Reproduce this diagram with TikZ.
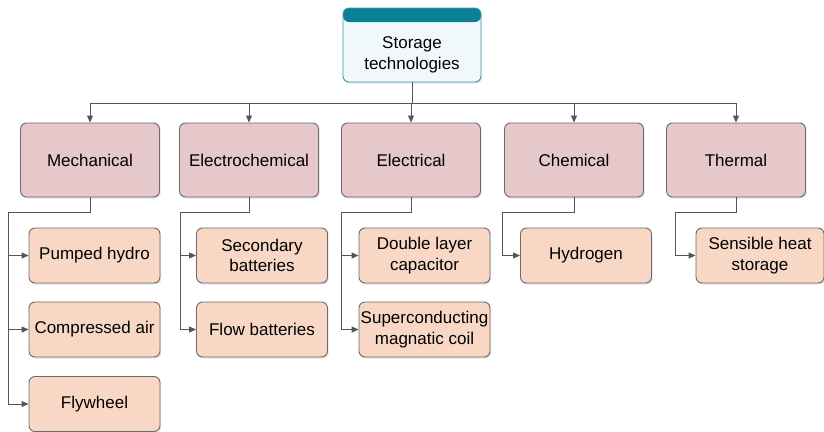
\documentclass[tikz,border=0pt]{standalone}
\usepackage{fontspec}
\setmainfont{Liberation Sans}
\usetikzlibrary{arrows.meta,shadows}
\definecolor{catfill}{HTML}{E6C8CB}
\definecolor{kidfill}{HTML}{F9D7C5}
\definecolor{boxline}{HTML}{6A6A6A}
\definecolor{wire}{HTML}{555555}
\definecolor{headteal}{HTML}{0B7F96}
\definecolor{topfill}{HTML}{F1F8FB}
\tikzset{
  base/.style={rounded corners=6pt, draw=boxline, line width=0.9pt,
    font=\fontsize{17}{20.5}\selectfont, align=center, inner sep=0pt,
    drop shadow={opacity=0.22, shadow xshift=1.2pt, shadow yshift=-1.6pt}},
  catbox/.style={base, fill=catfill, minimum width=139pt, minimum height=74pt},
  kidbox/.style={base, fill=kidfill, minimum width=131pt, minimum height=55pt},
  topbox/.style={base, fill=topfill, draw=headteal!80, minimum width=138pt, minimum height=74pt,
    path picture={\fill[headteal] (path picture bounding box.north west) rectangle ([yshift=-14pt]path picture bounding box.north east);}},
  wireline/.style={draw=wire, line width=0.9pt},
  arr/.style={wireline, -{Triangle[length=7pt,width=6pt]}},
}
\begin{document}
\begin{tikzpicture}[x=1pt,y=-1pt]
\useasboundingbox (0,0) rectangle (824,431);
% top
\node[topbox] (top) at (412,45) {};
\node[font=\fontsize{17}{20.5}\selectfont, align=center, inner sep=0pt] (toptext) at (412,55) {Storage\\technologies};
% categories
\node[catbox] (mech) at (90,160) {Mechanical};
\node[catbox] (echem) at (249,160) {Electrochemical};
\node[catbox] (elec) at (411,160) {Electrical};
\node[catbox] (chem) at (574,160) {Chemical};
\node[catbox] (therm) at (736,160) {Thermal};
% children
\node[kidbox] (ph) at (94.5,255.5) {Pumped hydro};
\node[kidbox] (ca) at (94.5,329.5) {Compressed air};
\node[kidbox] (fw) at (94.5,404) {Flywheel};
\node[kidbox] (sb) at (262,255.5) {Secondary\\batteries};
\node[kidbox] (fb) at (262,329.5) {Flow batteries};
\node[kidbox] (dl) at (424.5,255.5) {Double layer\\capacitor};
\node[kidbox] (sc) at (424.5,329.5) {Superconducting\\magnatic coil};
\node[kidbox] (hy) at (586,255.5) {Hydrogen};
\node[kidbox, minimum width=128pt] (sh) at (760,255.5) {Sensible heat\\storage};
% bus
\coordinate (bus) at (0,103);
\draw[wireline] (top.south) -- (top.south |- bus);
\draw[wireline] (mech.north |- bus) -- (therm.north |- bus);
\foreach \n in {mech,echem,elec,chem,therm}{
  \draw[arr] (\n.north |- bus) -- (\n.north);
}
% child connectors
\coordinate (mx) at (8,212);
\coordinate (ex) at (180,212);
\coordinate (lx) at (341,212);
\coordinate (cx) at (502,212);
\coordinate (tx) at (675,212);
\draw[wireline] (mech.south) -- (mech.south |- mx) -- (mx) -- (mx |- fw.west);
\draw[arr] (mx |- ph.west) -- (ph.west);
\draw[arr] (mx |- ca.west) -- (ca.west);
\draw[arr] (mx |- fw.west) -- (fw.west);
\draw[wireline] (echem.south) -- (echem.south |- ex) -- (ex) -- (ex |- fb.west);
\draw[arr] (ex |- sb.west) -- (sb.west);
\draw[arr] (ex |- fb.west) -- (fb.west);
\draw[wireline] (elec.south) -- (elec.south |- lx) -- (lx) -- (lx |- sc.west);
\draw[arr] (lx |- dl.west) -- (dl.west);
\draw[arr] (lx |- sc.west) -- (sc.west);
\draw[wireline] (chem.south) -- (chem.south |- cx) -- (cx) -- (cx |- hy.west);
\draw[arr] (cx |- hy.west) -- (hy.west);
\draw[wireline] (therm.south) -- (therm.south |- tx) -- (tx) -- (tx |- sh.west);
\draw[arr] (tx |- sh.west) -- (sh.west);
\end{tikzpicture}
\end{document}
